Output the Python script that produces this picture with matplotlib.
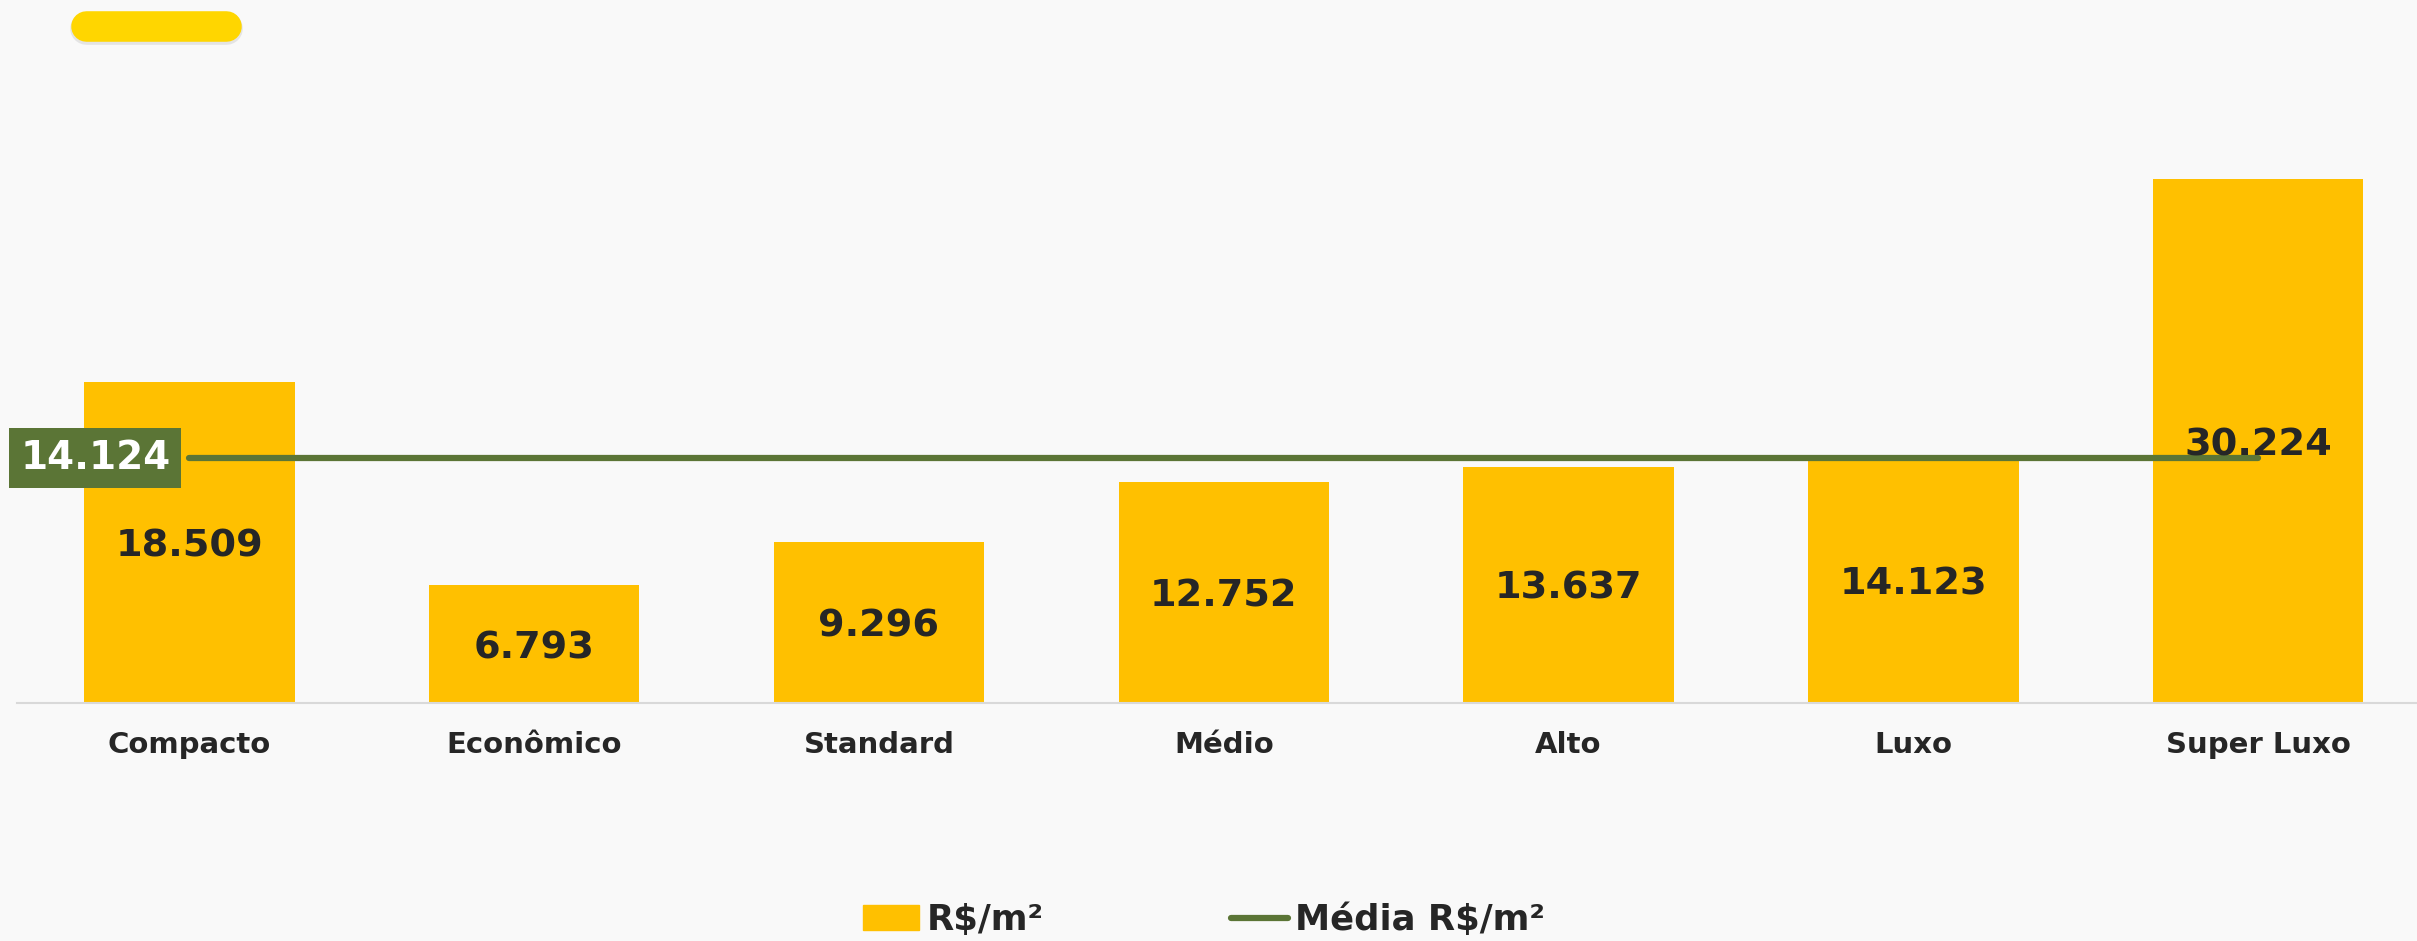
import matplotlib.pyplot as plt
from matplotlib.patches import Patch
from matplotlib.lines import Line2D

# data
categorias = ["Compacto", "Econômico", "Standard", "Médio", "Alto", "Luxo", "Super Luxo"]
valores = [18509, 6793, 9296, 12752, 13637, 14123, 30224]
media = 14124

amarelo = "#FFC000"
verde = "#5B7536"
texto = "#262626"
fundo = "#F9F9F9"


def fmt(v):
    # brazilian thousands separator
    return f"{v:,}".replace(",", ".")


W, H = 2417, 941
fig = plt.figure(figsize=(W / 100, H / 100), dpi=100, facecolor=fundo)
ax = fig.add_axes([17 / W, 238 / H, (W - 17) / W, 603 / H])
ax.set_facecolor(fundo)

x = list(range(len(categorias)))
bars = ax.bar(x, valores, width=0.61, color=amarelo, zorder=2)

# average line between first and last category
ax.plot([x[0], x[-1]], [media, media], color=verde, lw=4.5,
        solid_capstyle="round", zorder=3)

for b, v in zip(bars, valores):
    ax.text(b.get_x() + b.get_width() / 2, v / 2, fmt(v), ha="center", va="center_baseline",
            fontsize=27.5, fontweight="bold", color=texto, zorder=4)

ax.annotate(fmt(media), xy=(x[0], media), xytext=(-94, 0), textcoords="offset pixels",
            ha="center", va="center", fontsize=28, fontweight="bold", color="white",
            bbox=dict(boxstyle="square,pad=0.28", fc=verde, ec="none"),
            annotation_clip=False, zorder=5)

ax.set_xlim(-0.5, (W - 17) / 344.8 - 0.5)
ax.set_ylim(0, 34800)
ax.set_xticks(x)
ax.set_xticklabels(categorias, fontsize=21, fontweight="bold", color=texto)
ax.tick_params(axis="x", length=0, pad=20)
ax.set_yticks([])
for s in ["top", "right", "left"]:
    ax.spines[s].set_visible(False)
ax.spines["bottom"].set_color("#D9D9D9")
ax.spines["bottom"].set_linewidth(1.5)

# legend at the very bottom
handles = [Patch(color=amarelo, label="R$/m²"),
           Line2D([], [], color=verde, lw=4.5, solid_capstyle="round", label="Média R$/m²")]
fig.legend(handles=handles, loc="center", bbox_to_anchor=(0.498, 21 / H), ncol=2,
           frameon=False, handlelength=1.6, handletextpad=0.2, columnspacing=5.3,
           prop=dict(size=25.5, weight="bold"), labelcolor=texto)

# yellow pill at top-left (thick round-capped line, with a faint shadow)
fig.add_artist(Line2D([86 / W, 226 / W], [(H - 28) / H, (H - 28) / H], transform=fig.transFigure,
                      color="#E4E4E4", lw=23.5, solid_capstyle="round"))
fig.add_artist(Line2D([86 / W, 226 / W], [(H - 26) / H, (H - 26) / H], transform=fig.transFigure,
                      color="#FFD600", lw=22, solid_capstyle="round"))

fig.savefig("out.png", dpi=100, facecolor=fundo)
